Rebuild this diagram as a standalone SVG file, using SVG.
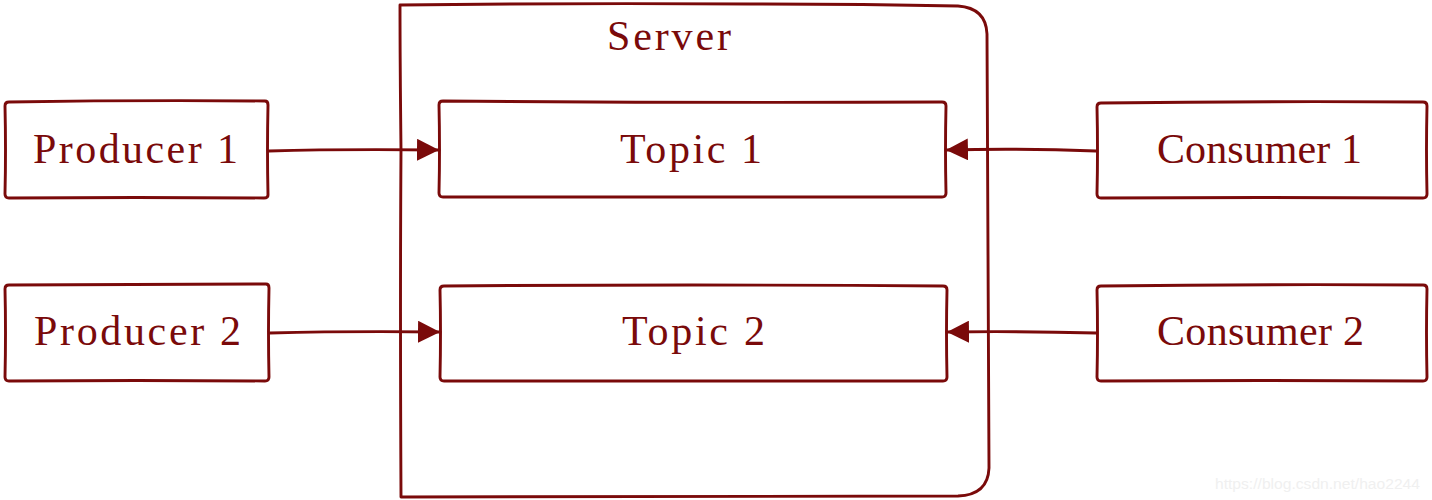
<svg xmlns="http://www.w3.org/2000/svg" width="1432" height="500" viewBox="0 0 1432 500">
<defs>
<style>
.sh{fill:none;stroke:#7a0a0a;stroke-width:2.9;stroke-linejoin:round;stroke-linecap:round}
.ln{fill:none;stroke:#7a0a0a;stroke-width:2.9;stroke-linecap:round}
.lb{font-family:"Liberation Serif","DejaVu Serif",serif;font-size:42px;fill:#7a0a0a;text-anchor:middle}
.wm{font-family:"Liberation Sans",Arial,sans-serif;font-size:14px;fill:#f0f0f0}
</style>
<marker id="ah" markerUnits="userSpaceOnUse" markerWidth="24" markerHeight="22" refX="22" refY="11" orient="auto">
<path d="M0 0 L22 11 L0 22 Z" fill="#7a0a0a"/>
</marker>
</defs>
<rect width="1432" height="500" fill="#ffffff"/>
<g id="server">
<path class="sh" d="M400 5 Q560 3 750 4 Q860 4 958 6 Q986 8 987 34 Q988 240 989 468 Q988 495 958 496 Q700 497 401 497 Q400 300 401 150 Q400 60 400 5 Z"/>
<text class="lb" x="669" y="50" textLength="124" lengthAdjust="spacing">Server</text>
</g>
<g id="producer1">
<path class="sh" d="M9 102 Q136 100 265 101 Q268 101 268 105 Q267 150 268 195 Q268 198 264 198 Q136 197 9 198 Q5 198 5 194 Q6 150 5 106 Q5 102 9 102 Z"/>
<text class="lb" x="135.5" y="163" textLength="205" lengthAdjust="spacing">Producer 1</text>
</g>
<g id="producer2">
<path class="sh" d="M9 285 Q136 284 266 284 Q269 284 269 288 Q268 332 269 377 Q269 381 265 381 Q136 380 9 381 Q5 381 5 377 Q6 332 5 289 Q5 285 9 285 Z"/>
<text class="lb" x="137.5" y="345" textLength="207" lengthAdjust="spacing">Producer 2</text>
</g>
<g id="topic1">
<path class="sh" d="M443 101 Q690 103 942 102 Q946 102 946 106 Q945 150 946 193 Q946 197 942 197 Q690 196 443 197 Q439 197 439 193 Q440 150 439 105 Q439 101 443 101 Z"/>
<text class="lb" x="691" y="163" textLength="142" lengthAdjust="spacing">Topic 1</text>
</g>
<g id="topic2">
<path class="sh" d="M444 286 Q690 284 943 286 Q947 286 947 290 Q946 332 947 377 Q947 381 943 381 Q690 380 444 381 Q440 381 440 377 Q441 332 440 290 Q440 286 444 286 Z"/>
<text class="lb" x="693.5" y="345" textLength="143" lengthAdjust="spacing">Topic 2</text>
</g>
<g id="consumer1">
<path class="sh" d="M1101 103 Q1260 101 1423 102 Q1427 102 1427 106 Q1426 150 1427 194 Q1427 198 1423 198 Q1260 197 1101 198 Q1097 198 1097 194 Q1098 150 1097 107 Q1097 103 1101 103 Z"/>
<text class="lb" x="1259.5" y="163" textLength="205" lengthAdjust="spacing">Consumer 1</text>
</g>
<g id="consumer2">
<path class="sh" d="M1101 286 Q1260 284 1423 285 Q1427 285 1427 289 Q1426 332 1427 377 Q1427 381 1423 381 Q1260 380 1101 381 Q1097 381 1097 377 Q1098 332 1097 290 Q1097 286 1101 286 Z"/>
<text class="lb" x="1260.5" y="345" textLength="207" lengthAdjust="spacing">Consumer 2</text>
</g>
<g id="connectors">
<path class="ln" d="M269 151 Q340 149 439 150" marker-end="url(#ah)"/>
<path class="ln" d="M270 333 Q350 331 440 332" marker-end="url(#ah)"/>
<path class="ln" d="M1096 151 Q1020 148 946 150" marker-end="url(#ah)"/>
<path class="ln" d="M1096 333 Q1020 331 947 332" marker-end="url(#ah)"/>
</g>
<text class="wm" x="1215" y="489" textLength="205" lengthAdjust="spacingAndGlyphs">https://blog.csdn.net/hao2244</text>
</svg>
